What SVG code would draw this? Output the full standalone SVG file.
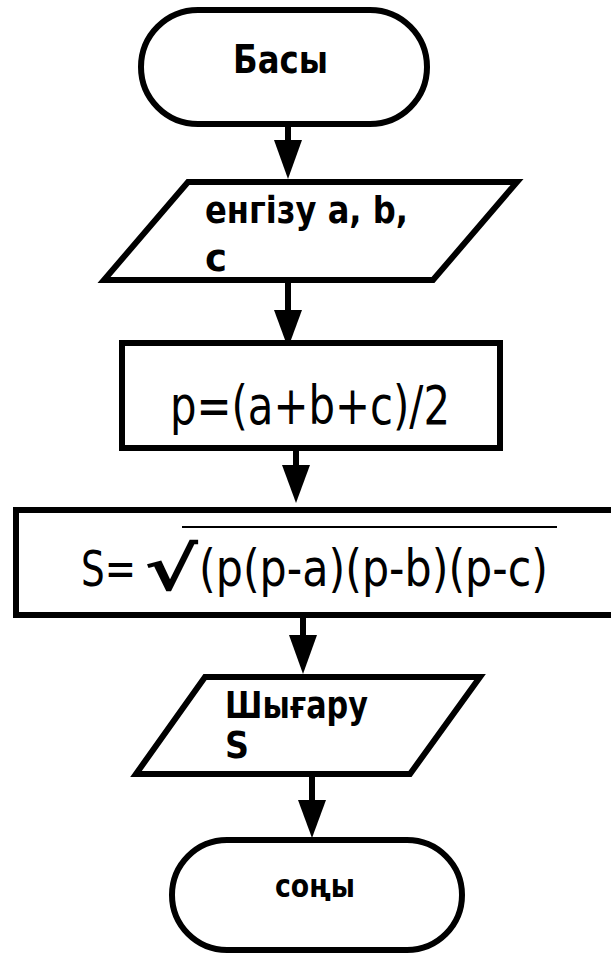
<svg xmlns="http://www.w3.org/2000/svg" width="611" height="953" viewBox="0 0 611 953">
<style>
.shape{fill:#fff;stroke:#000;stroke-width:6}
.conn{stroke:#000;stroke-width:6;fill:none}
.head{fill:#000;stroke:none}
.b{font-family:"DejaVu Sans",sans-serif;font-weight:bold;fill:#000}
.r{font-family:"DejaVu Sans",sans-serif;fill:#000}
</style>
<g id="connectors">
<line class="conn" x1="288" y1="124" x2="288" y2="142"/>
<polygon class="head" points="274,140 302,140 288,179"/>
<line class="conn" x1="288" y1="280" x2="288" y2="312"/>
<polygon class="head" points="274,310 302,310 288,348"/>
<line class="conn" x1="296" y1="449" x2="296" y2="467"/>
<polygon class="head" points="282,465 310,465 296,503"/>
<line class="conn" x1="303" y1="615" x2="303" y2="637"/>
<polygon class="head" points="289,635 317,635 303,674"/>
<line class="conn" x1="312" y1="774" x2="312" y2="802"/>
<polygon class="head" points="298,800 326,800 312,838"/>
</g>
<g id="start">
<rect class="shape" x="141" y="10" width="286" height="114" rx="57" ry="57"/>
<text class="b" x="233" y="73" font-size="39" textLength="95" lengthAdjust="spacingAndGlyphs">Басы</text>
</g>
<g id="input">
<polygon class="shape" points="188,182 517,182 433,280 104,280"/>
<text class="b" x="205" y="223" font-size="38" textLength="203" lengthAdjust="spacingAndGlyphs">енгізу a, b,</text>
<text class="b" x="205" y="271" font-size="38" textLength="22" lengthAdjust="spacingAndGlyphs">c</text>
</g>
<g id="calc-p">
<rect class="shape" x="122" y="343" width="378" height="105"/>
<text class="r" x="170" y="424" font-size="54" textLength="280" lengthAdjust="spacingAndGlyphs">p=(a+b+c)/2</text>
</g>
<g id="calc-s">
<rect class="shape" x="16" y="510" width="599" height="105"/>
<line x1="182" y1="527" x2="557" y2="527" stroke="#000" stroke-width="2"/>
<text class="r" x="81" y="586" font-size="50" textLength="55" lengthAdjust="spacingAndGlyphs">S=</text>
<text class="b" x="144" y="590" font-size="60" textLength="54" lengthAdjust="spacingAndGlyphs">√</text>
<text class="r" x="199" y="586" font-size="52" textLength="349" lengthAdjust="spacingAndGlyphs">(p(p-a)(p-b)(p-c)</text>
</g>
<g id="output">
<polygon class="shape" points="205,677 480,677 410,774 136,774"/>
<text class="b" x="225" y="718" font-size="38" textLength="143" lengthAdjust="spacingAndGlyphs">Шығару</text>
<text class="b" x="225" y="758" font-size="38" textLength="24" lengthAdjust="spacingAndGlyphs">S</text>
</g>
<g id="end">
<rect class="shape" x="172" y="840" width="290" height="110" rx="55" ry="55"/>
<text class="b" x="275" y="897" font-size="32" textLength="80" lengthAdjust="spacingAndGlyphs">соңы</text>
</g>
</svg>
